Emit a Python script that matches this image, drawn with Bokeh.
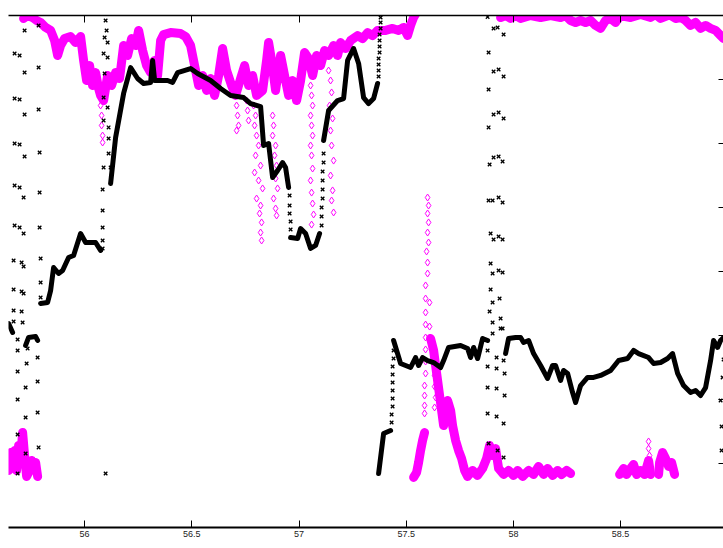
from bokeh.plotting import figure
from bokeh.models import Range1d, LinearAxis, FixedTicker, Label
from bokeh.embed import file_html
from bokeh.resources import INLINE

# ---------------- data (day of 2005, direction in degrees) ----------------
x_ticks = [56, 56.5, 57, 57.5, 58, 58.5]
y_ticks = [0, 45, 90, 135, 180, 225, 270, 315, 360]

# black dense trace, split where it jumps
blk1_t = [55.6455, 55.6642]
blk1_v = [143.4, 137.1]
blk2_t = [55.7248, 55.7388, 55.7715, 55.7808]
blk2_v = [128.0, 133.6, 134.3, 131.5]
blk3_t = [55.7948, 55.8274, 55.8414, 55.8554, 55.8787, 55.8974, 55.9254, 55.9487, 55.9813, 56.0047, 56.0513, 56.0746]
blk3_v = [157.5, 158.2, 166.6, 182.8, 178.6, 180.7, 189.8, 191.3, 206.7, 200.4, 200.4, 194.8]
blk4_t = [56.1213, 56.1446, 56.1819, 56.2146, 56.2472, 56.2752, 56.3078, 56.3172, 56.3265, 56.3871,
          56.4104, 56.4338, 56.4944, 56.5271, 56.5877, 56.6343, 56.6810, 56.7416, 56.7743, 56.8209,
          56.8349, 56.8582, 56.8769, 56.9002, 56.9235, 56.9375, 56.9515]
blk4_v = [241.9, 274.2, 305.2, 323.4, 315.7, 312.2, 312.9, 328.4, 314.3, 314.3,
          312.9, 319.9, 322.7, 319.2, 314.3, 308.7, 303.8, 302.3, 298.1, 296.0,
          268.6, 270.0, 246.1, 251.0, 256.6, 253.1, 239.1]
blk5_t = [56.9608, 56.9935, 57.0075, 57.0308, 57.0541, 57.0774, 57.0961]
blk5_v = [203.9, 203.2, 210.2, 206.7, 196.2, 198.3, 206.7]
blk6_t = [57.1147, 57.1381, 57.1800, 57.2080, 57.2267, 57.2547, 57.2780, 57.3013, 57.3246, 57.3479, 57.3666]
blk6_v = [272.1, 293.2, 300.2, 301.6, 328.4, 336.8, 326.3, 302.3, 298.1, 301.6, 312.2]
blk7_t = [57.3713, 57.3946, 57.4272]
blk7_v = [38.0, 66.1, 68.2]
blk8_t = [57.4412, 57.4739, 57.5205, 57.5438, 57.5578, 57.5765, 57.5998, 57.6278, 57.6604, 57.6744,
          57.6978, 57.7537, 57.7864, 57.8004, 57.8144, 57.8330, 57.8563, 57.8797]
blk8_v = [131.5, 115.3, 112.5, 119.5, 113.9, 119.5, 117.4, 116.0, 112.5, 117.4,
          126.6, 128.0, 125.9, 119.5, 126.6, 118.8, 132.9, 131.5]
blk9_t = [57.9636, 57.9776, 58.0103, 58.0336, 58.0476, 58.0709, 58.0942, 58.1269, 58.1595, 58.1828,
          58.1968, 58.2201, 58.2341, 58.2528, 58.2761, 58.2901, 58.3134, 58.3461, 58.3741, 58.4067,
          58.4534, 58.4907, 58.5327, 58.5606, 58.5840, 58.6306, 58.6539, 58.6866, 58.7192, 58.7425,
          58.7659, 58.7939, 58.8265, 58.8498, 58.8731, 58.8965, 58.9198, 58.9338, 58.9524, 58.9664, 58.9804]
blk9_v = [122.3, 132.9, 133.6, 133.6, 130.1, 131.5, 122.3, 113.9, 104.8, 113.9,
          113.9, 103.4, 110.4, 108.3, 94.9, 87.9, 99.8, 105.5, 105.5, 106.9,
          110.4, 117.4, 118.8, 124.5, 122.3, 119.5, 115.3, 116.0, 118.8, 122.3,
          108.3, 99.8, 94.9, 96.3, 92.8, 98.4, 117.4, 131.5, 126.6, 131.5, 133.6]

# black sparse 'x' samples
xmark_t = [55.6735, 55.6968, 55.7201, 55.6735, 55.6968, 55.7201, 55.6735, 55.6968, 55.7201, 55.6735,
           55.6968, 55.7155, 55.6735, 55.6968, 55.7155, 55.7201, 55.7854, 55.7854, 55.7854, 55.7901,
           55.7901, 55.7901, 55.6688, 55.7062, 55.7155, 55.7948, 55.7948, 55.6688, 55.7062, 55.7155,
           55.7948, 55.6688, 55.7062, 55.6688, 55.7108, 55.6875, 55.6875, 55.7341, 55.7808, 55.7295,
           55.6875, 55.7808, 55.7248, 55.6875, 55.7808, 55.7248, 55.6875, 55.7854, 55.7248, 55.6875,
           56.0979,
           56.0979, 56.1026, 56.0933, 56.1073, 56.0886, 56.1073, 56.0933, 56.0886, 56.1073, 56.0886,
           56.1119, 56.1119, 56.1119, 56.0886, 56.1213, 56.0840, 56.0840, 56.0840, 56.0840, 56.0840,
           56.9562, 56.9562, 56.9562, 56.9608, 56.9608,
           57.1054, 57.1054, 57.1054, 57.1101, 57.1101, 57.1101, 57.1101, 57.1147, 57.1147,
           57.3713, 57.3713, 57.3713, 57.3713, 57.3759, 57.3759, 57.3759, 57.3759, 57.3806, 57.3806, 57.3806,
           57.4319, 57.4319, 57.4366, 57.4366, 57.4366, 57.4366, 57.4366, 57.4366, 57.4412, 57.4412,
           57.8797, 57.9076, 57.9263, 57.9543, 57.8843, 57.9076, 57.9310, 57.9543, 57.8843, 57.9076,
           57.9310, 57.9543, 57.8843, 57.8890, 57.9076, 57.9310, 57.9496, 57.8843, 57.9030, 57.9310,
           57.9496, 57.8937, 57.9076, 57.9310, 57.9496, 57.8937, 57.9030, 57.9310, 57.9496, 57.8937,
           57.9030, 57.9356, 57.8890, 57.9030, 57.9403, 57.9030, 57.9403, 57.8797, 57.9216, 57.8797,
           57.9216, 57.9590, 57.8797, 57.9216, 57.9590, 57.8797, 57.9216, 57.9543, 57.8843, 57.9263,
           57.9543, 57.9496, 57.9543,
           58.9804, 58.9757, 58.9664, 58.9711, 58.9711]
xmark_v = [333.3, 331.9, 319.9, 301.6, 300.9, 290.4, 270.0, 269.3, 260.9, 240.5,
           239.1, 232.0, 212.3, 210.9, 206.7, 349.5, 353.0, 323.4, 293.9, 263.7,
           235.5, 210.9, 187.7, 186.3, 183.5, 189.1, 172.3, 167.3, 165.9, 164.5,
           161.7, 152.6, 151.9, 144.8, 144.1, 132.2, 124.5, 125.9, 119.5, 115.3,
           109.7, 102.7, 98.4, 90.0, 80.9, 77.3, 65.4, 56.3, 52.0, 38.0,
           38.0,
           356.5, 349.5, 344.5, 341.0, 333.3, 330.5, 319.2, 302.3, 295.3, 286.2,
           281.3, 273.5, 263.0, 253.1, 253.1, 237.7, 222.9, 210.9, 201.8, 196.2,
           233.4, 226.4, 220.8, 215.2, 209.5,
           212.3, 218.7, 225.0, 231.3, 237.7, 244.0, 250.3, 256.6, 263.0,
           317.1, 321.3, 325.5, 329.8, 334.0, 338.2, 342.4, 346.6, 350.9, 355.1, 358.6,
           73.8, 79.5, 85.1, 90.7, 96.3, 102.0, 107.6, 113.2, 118.8, 124.5,
           359.0, 350.9, 351.6, 346.6, 334.0, 320.6, 322.0, 317.1, 308.0, 290.4,
           291.8, 287.6, 281.3, 255.2, 260.2, 260.9, 257.3, 229.9, 229.9, 232.0,
           228.5, 206.7, 202.5, 204.6, 202.5, 185.6, 178.6, 180.7, 179.3, 167.3,
           158.2, 161.0, 151.9, 144.1, 147.0, 136.4, 139.9, 124.5, 119.5, 113.2,
           111.8, 108.3, 98.4, 97.7, 92.8, 80.2, 78.0, 73.1, 59.1, 54.1,
           49.2, 139.9, 117.4,
           118.1, 105.5, 89.3, 71.0, 54.1]

# magenta dense trace
mag1_t = [55.7155, 55.7341, 55.7575, 55.7761, 55.7948, 55.8181, 55.8414, 55.8601, 55.8741, 55.8881,
          55.9067, 55.9347, 55.9580, 55.9813, 55.9953, 56.0093, 56.0233, 56.0373, 56.0513, 56.0653,
          56.0746, 56.0886, 56.1073, 56.1259, 56.1446, 56.1632, 56.1819, 56.2006, 56.2192, 56.2379,
          56.2519, 56.2705, 56.2892, 56.3078, 56.3265, 56.3405, 56.3545, 56.3685, 56.4011, 56.4478,
          56.4711, 56.4944, 56.5131, 56.5317, 56.5504, 56.5690, 56.5877, 56.6063, 56.6250, 56.6437,
          56.6623, 56.6856, 56.7043, 56.7276, 56.7463, 56.7649, 56.7836, 56.8022, 56.8302, 56.8489,
          56.8582, 56.8722, 56.8909, 56.9142, 56.9328, 56.9515, 56.9701, 56.9888, 57.0075, 57.0261,
          57.0448, 57.0634, 57.0821, 57.1007, 57.1194, 57.1381, 57.1614, 57.1800, 57.1940, 57.2173,
          57.2407, 57.2733, 57.2966, 57.3200, 57.3433, 57.3666, 57.4039, 57.4366, 57.4646, 57.4879,
          57.5065, 57.5205, 57.5345, 57.5438]
mag1_v = [357.9, 360.0, 358.6, 356.5, 355.1, 351.6, 349.5, 342.4, 331.9, 338.9,
          343.8, 345.2, 341.0, 345.2, 328.4, 314.3, 324.8, 310.8, 319.9, 308.7,
          303.8, 300.2, 317.8, 310.8, 319.9, 315.7, 338.9, 331.9, 343.8, 338.9,
          349.5, 335.4, 324.8, 319.9, 328.4, 317.8, 342.4, 346.6, 348.0, 347.3,
          345.2, 338.9, 324.8, 310.8, 317.8, 307.3, 315.7, 303.8, 317.8, 336.8,
          321.3, 310.8, 303.8, 315.7, 324.8, 310.8, 317.8, 303.8, 307.3, 328.4,
          341.0, 328.4, 307.3, 331.9, 317.8, 303.8, 314.3, 300.2, 314.3, 334.0,
          329.8, 317.8, 331.9, 324.8, 335.4, 331.9, 338.9, 331.9, 341.0, 336.8,
          342.4, 345.9, 343.8, 348.0, 345.9, 349.5, 349.5, 350.9, 349.5, 351.6,
          345.9, 353.0, 358.6, 361.0]
mag2_t = [57.9403, 57.9636, 57.9869, 58.0103, 58.0336, 58.0802, 58.1269, 58.1735, 58.2201, 58.2435,
          58.2668, 58.2901, 58.3134, 58.3368, 58.3601, 58.3834, 58.4067, 58.4300, 58.4534, 58.4767,
          58.5000, 58.5466, 58.5933, 58.6399, 58.6632, 58.6866, 58.7192, 58.7332, 58.7565, 58.7799,
          58.8032, 58.8265, 58.8498, 58.8731, 58.8965, 58.9198, 58.9431, 58.9664, 58.9804]
mag2_v = [358.6, 360.0, 357.9, 360.0, 357.9, 360.0, 358.6, 360.0, 358.6, 360.0,
          356.5, 355.1, 356.5, 355.1, 356.5, 353.0, 350.9, 356.5, 357.9, 355.1,
          360.0, 358.6, 360.7, 358.6, 360.7, 357.9, 360.0, 360.0, 357.9, 358.6,
          356.5, 353.0, 355.1, 350.9, 353.0, 350.9, 349.5, 345.9, 343.8]
mag3_t = [55.6455, 55.6548, 55.6642, 55.6735, 55.6828, 55.6922, 55.7015, 55.7108, 55.7201, 55.7295,
          55.7435, 55.7528, 55.7621, 55.7715, 55.7808]
mag3_v = [40.1, 52.7, 45.7, 54.1, 40.1, 57.7, 48.5, 66.8, 50.6, 35.9,
          40.1, 47.1, 41.5, 45.7, 35.9]
mag4_t = [57.5345, 57.5485, 57.5578, 57.5671, 57.5765, 57.5858]
mag4_v = [35.2, 38.7, 45.7, 54.1, 61.2, 66.8]
mag5_t = [57.6138, 57.6278, 57.6371, 57.6464, 57.6558, 57.6651, 57.6744, 57.6838, 57.6931, 57.7071,
          57.7164, 57.7304, 57.7444, 57.7584, 57.7724, 57.7864, 57.8097, 57.8330, 57.8563, 57.8750,
          57.8890, 57.9030, 57.9170, 57.9310, 57.9543, 57.9776, 58.0009, 58.0196, 58.0429, 58.0709,
          58.0942, 58.1175, 58.1408, 58.1595, 58.1828, 58.2061, 58.2248, 58.2481, 58.2668]
mag5_v = [132.9, 124.5, 113.9, 103.4, 92.8, 82.3, 71.7, 78.8, 89.3, 82.3,
          71.7, 61.2, 54.1, 48.5, 40.1, 35.9, 40.1, 36.6, 41.5, 48.5,
          57.7, 50.6, 55.5, 41.5, 37.3, 40.1, 36.6, 40.1, 35.9, 40.1,
          37.3, 42.9, 37.3, 41.5, 36.6, 40.1, 37.3, 40.1, 38.0]
mag6_t = [58.4953, 58.5140, 58.5280, 58.5466, 58.5606, 58.5746, 58.5933, 58.6119, 58.6306, 58.6399]
mag6_v = [37.3, 41.5, 37.3, 41.5, 44.3, 37.3, 40.1, 37.3, 47.1, 37.3]
mag7_t = [58.6772, 58.6819, 58.6959, 58.7099, 58.7239, 58.7379, 58.7519]
mag7_v = [37.3, 45.7, 52.7, 48.5, 42.9, 45.7, 37.3]

# magenta sparse diamonds
dia_t = [56.0746, 56.0793, 56.0793, 56.0840, 56.0840,
         56.7090, 56.7136, 56.7183, 56.7090,
         56.7556, 56.7602, 56.7649,
         56.7883, 56.7976, 56.7929, 56.8022, 56.8116, 56.7976, 56.8209, 56.7929, 56.8116, 56.8302,
         56.8022, 56.8209, 56.8162, 56.8256, 56.8209, 56.8256,
         56.8769, 56.8815, 56.8769, 56.8909, 56.8862, 56.8955, 56.8909, 56.9002, 56.8815, 56.8909, 56.8955,
         57.0541, 57.0588, 57.0634, 57.0541, 57.0588, 57.0634, 57.0541, 57.0588, 57.0634, 57.0541,
         57.0588, 57.0634, 57.0681, 57.0588,
         57.1381, 57.1474, 57.1521, 57.1427, 57.1567, 57.1474, 57.1521, 57.1614, 57.1474, 57.1567,
         57.1521, 57.1614,
         57.5998, 57.6045, 57.5998, 57.6045, 57.5998, 57.6045, 57.5951, 57.5998, 57.5998, 57.5905,
         57.5905, 57.6091, 57.5905, 57.5905, 57.6091, 57.5905, 57.5905, 57.5905, 57.5905, 57.5858,
         57.5858, 57.5858, 57.5858,
         57.6324, 57.6324, 57.6371, 57.6324,
         58.6306, 58.6306, 58.6352, 58.6259]
dia_v = [296.7, 289.7, 282.7, 275.6, 270.7,
         296.7, 289.7, 282.7, 279.1,
         300.2, 293.2, 286.2,
         296.7, 289.7, 282.7, 275.6, 268.6, 261.6, 254.5, 249.6, 244.0, 238.4,
         231.3, 226.4, 220.8, 214.5, 207.4, 201.8,
         289.7, 282.7, 275.6, 268.6, 261.6, 254.5, 245.4, 238.4, 231.3, 224.3, 219.4,
         310.8, 303.8, 296.7, 289.7, 282.7, 275.6, 268.6, 261.6, 252.4, 244.0,
         235.5, 227.8, 220.1, 213.0,
         321.3, 314.3, 305.9, 296.7, 287.6, 279.1, 268.6, 258.0, 247.5, 237.0,
         229.9, 221.5,
         232.0, 226.4, 220.8, 214.5, 207.4, 200.4, 194.1, 186.3, 178.6, 170.2,
         161.0, 158.2, 151.2, 142.7, 141.3, 133.6, 125.2, 116.7, 108.3, 99.8,
         92.8, 85.8, 80.2,
         106.9, 99.1, 91.4, 84.4,
         60.5, 55.5, 50.6, 45.7]

MAGENTA = "#ff00ff"
FONT = "Liberation Sans"

p = figure(width=723, height=548,
           x_range=Range1d(55.645, 58.98), y_range=Range1d(0, 360),
           output_backend="svg", toolbar_location=None,
           y_axis_location=None,
           min_border_left=8, min_border_right=0,
           min_border_top=15, min_border_bottom=21)
p.outline_line_color = None
p.xgrid.visible = False
p.ygrid.visible = False
p.background_fill_color = "white"

# bottom axis
bx = p.below[0]
bx.ticker = FixedTicker(ticks=x_ticks)
bx.major_tick_in = 7
bx.major_tick_out = 0
bx.minor_tick_line_color = None
bx.axis_line_width = 2
bx.axis_line_color = "black"
bx.major_tick_line_color = "black"
bx.major_label_standoff = 3
bx.major_label_text_font_size = "9px"
bx.major_label_text_font = FONT
bx.major_label_text_color = "#222222"

# top axis (ticks only, labels not drawn)
tx = LinearAxis(ticker=FixedTicker(ticks=x_ticks), major_tick_in=7, major_tick_out=0,
                minor_tick_line_color=None, axis_line_width=1.5,
                major_label_text_font_size="1px", major_label_text_color=None,
                major_label_standoff=0)
p.add_layout(tx, "above")

# right axis (ticks only, labels not drawn)
ry = LinearAxis(ticker=FixedTicker(ticks=y_ticks), major_tick_in=5, major_tick_out=0,
                minor_tick_line_color=None, axis_line_color=None,
                major_label_text_font_size="1px", major_label_text_color=None,
                major_label_standoff=0)
p.add_layout(ry, "right")

# magenta trace
p.multi_line([mag1_t, mag2_t, mag3_t, mag4_t, mag5_t, mag6_t, mag7_t],
             [mag1_v, mag2_v, mag3_v, mag4_v, mag5_v, mag6_v, mag7_v],
             line_color=MAGENTA, line_width=9, line_join="round", line_cap="round")
p.scatter(dia_t, dia_v, marker="diamond", size=7, fill_color=None,
          line_color=MAGENTA, line_width=1)

# black trace
p.multi_line([blk1_t, blk2_t, blk3_t, blk4_t, blk5_t, blk6_t, blk7_t, blk8_t, blk9_t],
             [blk1_v, blk2_v, blk3_v, blk4_v, blk5_v, blk6_v, blk7_v, blk8_v, blk9_v],
             line_color="black", line_width=5, line_join="round", line_cap="round")
p.scatter(xmark_t, xmark_v, marker="x", size=5, line_color="black", line_width=1.3)

p.add_layout(Label(x=57, y=-11, y_units="screen", text="Días de 2005",
                   text_align="center", text_baseline="top",
                   text_font_size="9px", text_font=FONT, text_color="#222222"))

open("out.html", "w").write(file_html(p, INLINE))
